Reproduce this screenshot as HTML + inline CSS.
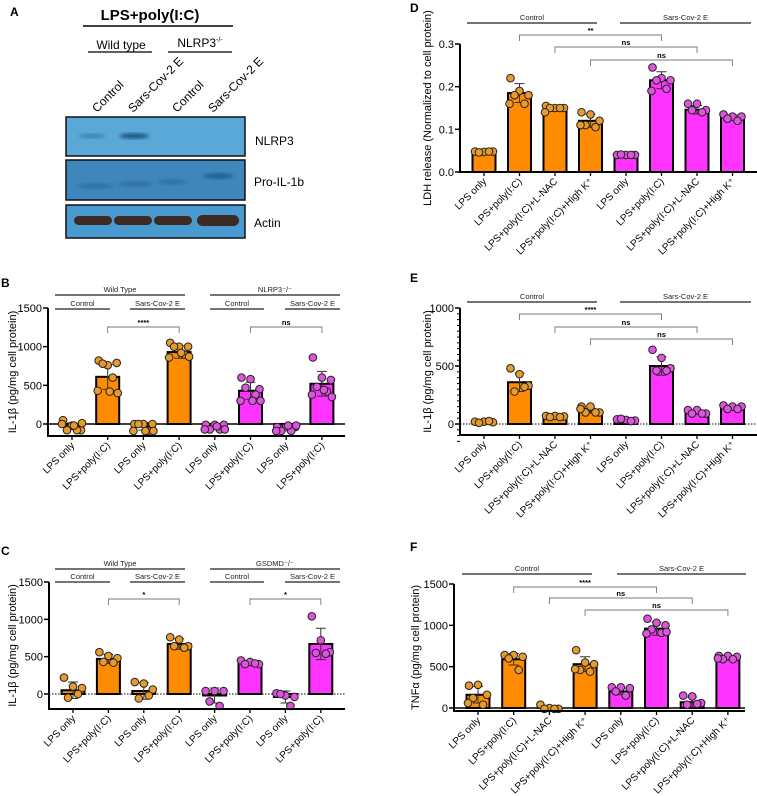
<!DOCTYPE html>
<html><head><meta charset="utf-8">
<style>
html,body{margin:0;padding:0;background:#fff;}
svg{display:block;font-family:"Liberation Sans",Arial,sans-serif;}
</style></head>
<body>
<svg id="fig" width="757" height="796" viewBox="0 0 757 796" xmlns="http://www.w3.org/2000/svg">
<g>
  <text x="10" y="16" font-size="12" font-weight="bold">A</text>
  <text x="150" y="20" font-size="15" font-weight="bold" text-anchor="middle">LPS+poly(I:C)</text>
  <line x1="83" y1="26" x2="233" y2="26" stroke="#000" stroke-width="1.5"/>
  <text x="121" y="49" font-size="12" text-anchor="middle">Wild type</text>
  <line x1="88" y1="52" x2="152" y2="52" stroke="#000" stroke-width="1.2"/>
  <text x="200" y="47" font-size="12" text-anchor="middle">NLRP3<tspan font-size="7" dy="-5">-/-</tspan></text>
  <line x1="168" y1="52" x2="232" y2="52" stroke="#000" stroke-width="1.2"/>
  <text transform="translate(97,113) rotate(-45)" font-size="12">Control</text>
  <text transform="translate(133,113) rotate(-45)" font-size="12">Sars-Cov-2 E</text>
  <text transform="translate(177,113) rotate(-45)" font-size="12">Control</text>
  <text transform="translate(213,113) rotate(-45)" font-size="12">Sars-Cov-2 E</text>
  <defs>
    <filter id="blur1"><feGaussianBlur stdDeviation="1.6"/></filter>
  </defs>
  <g>
    <rect x="66" y="117" width="179" height="39" fill="#5aa8d8" stroke="#111" stroke-width="1.5"/>
    <ellipse cx="92" cy="136" rx="13" ry="2.5" fill="#2f6f9c" opacity="0.6" filter="url(#blur1)"/>
    <ellipse cx="134" cy="136" rx="15" ry="3" fill="#1d4f7a" opacity="0.85" filter="url(#blur1)"/>
  </g>
  <g>
    <rect x="66" y="160" width="179" height="40" fill="#3f86bd" stroke="#111" stroke-width="1.5"/>
    <ellipse cx="95" cy="186" rx="18" ry="3" fill="#2a6898" opacity="0.6" filter="url(#blur1)"/>
    <ellipse cx="135" cy="184" rx="17" ry="3" fill="#2a6898" opacity="0.6" filter="url(#blur1)"/>
    <ellipse cx="172" cy="182" rx="14" ry="3" fill="#2a6898" opacity="0.6" filter="url(#blur1)"/>
    <ellipse cx="218" cy="176" rx="15" ry="3" fill="#1f5b8a" opacity="0.8" filter="url(#blur1)"/>
  </g>
  <g>
    <rect x="66" y="205" width="179" height="33" fill="#4a9ad2" stroke="#111" stroke-width="1.5"/>
    <rect x="74" y="216" width="38" height="9" rx="4.5" fill="#3d2a22"/>
    <rect x="114" y="216" width="38" height="9" rx="4.5" fill="#3d2a22"/>
    <rect x="154" y="216" width="38" height="9" rx="4.5" fill="#3d2a22"/>
    <rect x="197" y="215" width="42" height="11" rx="5.5" fill="#3d2a22"/>
  </g>
  <text x="255" y="145" font-size="12">NLRP3</text>
  <text x="254" y="186" font-size="12">Pro-IL-1b</text>
  <text x="254" y="227" font-size="12">Actin</text>
</g>
<g id="charts"></g>
</svg>
<script>
const bCategories = ["LPS only","LPS+poly(I:C)","LPS only","LPS+poly(I:C)","LPS only","LPS+poly(I:C)","LPS only","LPS+poly(I:C)"];
const bMeans = [-30, 610, -30, 930, -40, 430, -45, 520];
const bErrors = [45, 160, 50, 80, 30, 110, 30, 160];
const bPoints = [[50,-20,-80,-80,-80,0,10,-20],[820,760,790,780,600,430,400,420],[0,0,0,0,-90,-90,-90,-90],[1050,1000,1000,1000,900,860,870,920],[-10,-10,-10,-70,-70,-70,-70,-30],[600,580,450,470,380,300,300,300],[-40,-40,-40,-90,-90,-90,-20,-20],[860,600,570,480,420,380,350,440]];
const bTicks = [0,500,1000,1500];

const cCategories = bCategories.slice();
const cMeans = [50, 470, 40, 670, -20, 410, -40, 670];
const cErrors = [110, 60, 110, 70, 100, 30, 80, 210];
const cPoints = [[220,100,80,-50,0],[560,510,480,430,420],[160,140,60,-60,-20],[760,730,640,640,620],[40,40,40,-100,-160],[450,430,400,400,410],[10,-20,-40,0,-160],[1040,720,560,550,540]];
const cTicks = [0,500,1000,1500];

const dCategories = ["LPS only","LPS+poly(I:C)","LPS+poly(I:C)+L-NAC","LPS+poly(I:C)+High K\u207A","LPS only","LPS+poly(I:C)","LPS+poly(I:C)+L-NAC","LPS+poly(I:C)+High K\u207A"];
const dMeans = [0.047, 0.185, 0.148, 0.12, 0.04, 0.215, 0.146, 0.128];
const dErrors = [0.002, 0.022, 0.006, 0.015, 0.002, 0.02, 0.01, 0.006];
const dPoints = [[0.048,0.047,0.048,0.046,0.048],[0.22,0.19,0.18,0.18,0.16,0.16],[0.155,0.15,0.15,0.15,0.15,0.14],[0.14,0.135,0.12,0.11,0.105,0.11],[0.04,0.04,0.04,0.041,0.04],[0.245,0.22,0.215,0.215,0.195,0.19],[0.16,0.16,0.145,0.145,0.14],[0.135,0.13,0.13,0.125,0.12]];
const dTicks = [0,0.1,0.2,0.3];
const dTickLabels = ["0.0","0.1","0.2","0.3"];

const eCategories = dCategories.slice();
const eMeans = [20, 360, 65, 115, 35, 500, 100, 140];
const eErrors = [6, 80, 6, 20, 8, 80, 15, 15];
const ePoints = [[20,20,15,10,25],[480,430,330,280,320],[70,70,65,60,60],[150,150,100,100,100,130],[40,35,30,45,25],[640,570,480,460,460],[120,120,90,90,90],[160,150,150,130,130]];
const eTicks = [0,500,1000];

const fCategories = dCategories.slice();
const fMeans = [160, 590, 10, 530, 200, 960, 70, 600];
const fErrors = [100, 70, 15, 90, 40, 80, 60, 20];
const fPoints = [[270,280,160,120,40,60],[640,640,620,600,460],[40,0,-10,-10,-10],[700,550,530,460,440,470],[250,250,240,200,150],[1080,1030,1000,950,910,900,920],[150,140,60,40,50],[630,630,620,590,590,600]];
const fTicks = [0,500,1000,1500];

const NS = "http://www.w3.org/2000/svg";
const root = document.getElementById("charts");
function mk(tag, attrs, parent) {
  const el = document.createElementNS(NS, tag);
  for (const k in attrs) el.setAttribute(k, attrs[k]);
  (parent || root).appendChild(el);
  return el;
}
const ORANGE = "#ff8c00", ORANGE_DOT = "#e89a2a", MAG = "#ff33ff", MAG_DOT = "#dd55dd";
const jitter = [-9, 0, 9, -5, 5, -10, 10, 2, -2];

function drawPanel(p) {
  const g = mk("g", {});
  
  
  const y = v => p.zeroY - (v / p.vRef) * (p.zeroY - p.refY);
  const cx = i => p.firstX + i * p.step;
  const letter = mk("text", {x: p.letterX, y: p.letterY, "font-size": 12, "font-weight": "bold"}, g);
  letter.textContent = p.letter;
  
  
  p.groups.forEach(gr => {
    const l = mk("line", {x1: gr[0], x2: gr[1], y1: gr[2], y2: gr[2], stroke: "#222", "stroke-width": 1.3}, g);
    
    
    const t = mk("text", {x: (gr[0] + gr[1]) / 2, y: gr[2] - 3, "font-size": 7.5, "text-anchor": "middle", fill: "#222"}, g);
    t.textContent = gr[3];
    
    
  });
  p.brackets.forEach(br => {
    const x1 = cx(br[0]), x2 = cx(br[1]), yy = br[2];
    const pa = mk("path", {d: `M${x1},${yy + 6}V${yy}H${x2}V${yy + 6}`, fill: "none", stroke: "#777", "stroke-width": 0.9}, g);
    
    
    const t = mk("text", {x: (x1 + x2) / 2, y: yy - 2, "font-size": 7.5, "font-weight": "bold", "text-anchor": "middle"}, g);
    t.textContent = br[3];
    
    
  });
  const zl = mk("line", {x1: p.axisX, x2: p.xEnd, y1: y(0), y2: y(0), stroke: "#000", "stroke-width": p.zeroDotted ? 1 : 1.5, "stroke-dasharray": p.zeroDotted ? "1.5,1.5" : "none"}, g);
  
  
  p.means.forEach((m, i) => {
    const isMag = i >= p.means.length / 2;
    const top = Math.min(y(m), y(0)), h = Math.abs(y(m) - y(0));
    const r = mk("rect", {x: cx(i) - p.barW / 2, y: top, width: p.barW, height: Math.max(h, 0.5), fill: isMag ? MAG : ORANGE, stroke: "#000", "stroke-width": 2}, g);
    
    
    const e = p.errors[i];
    const eb = mk("path", {d: `M${cx(i)},${y(m - e)}V${y(m + e)}M${cx(i) - 5},${y(m + e)}H${cx(i) + 5}M${cx(i) - 5},${y(m - e)}H${cx(i) + 5}`, stroke: "#333", "stroke-width": 1, fill: "none"}, g);
    
    
    p.points[i].forEach((v, k) => {
      const c = mk("circle", {cx: cx(i) + jitter[k % jitter.length], cy: y(v), r: 3.8, fill: isMag ? MAG_DOT : ORANGE_DOT, stroke: "#222", "stroke-width": 1}, g);
      
      
    });
    const t = mk("text", {transform: `translate(${cx(i) + 3},${p.bottomY + 10}) rotate(-45)`, "font-size": 10, "text-anchor": "end"}, g);
    t.textContent = p.cats[i];
    
    
  });
  const ya = mk("line", {x1: p.axisX, x2: p.axisX, y1: y(p.ticks[p.ticks.length - 1]), y2: p.bottomY, stroke: "#000", "stroke-width": 2}, g);
  
  
  const xa = mk("line", {x1: p.axisX - 1, x2: p.xEnd, y1: p.bottomY, y2: p.bottomY, stroke: "#000", "stroke-width": 2}, g);
  
  
  p.means.forEach((m, i) => {
    mk("line", {x1: cx(i), x2: cx(i), y1: p.bottomY, y2: p.bottomY + 4, stroke: "#000", "stroke-width": 1.3}, g);
  });
  if (p.minor) {
    for (let v = p.minor[0]; v <= p.ticks[p.ticks.length - 1]; v += p.minor[1]) {
      mk("line", {x1: p.axisX - 3, x2: p.axisX, y1: y(v), y2: y(v), stroke: "#000", "stroke-width": 1}, g);
    }
  }
  p.ticks.forEach((v, k) => {
    mk("line", {x1: p.axisX - 5, x2: p.axisX, y1: y(v), y2: y(v), stroke: "#000", "stroke-width": 1.5}, g);
    const t = mk("text", {x: p.axisX - 6, y: y(v) + 4, "font-size": 11, "text-anchor": "end"}, g);
    t.textContent = p.tickLabels ? p.tickLabels[k] : String(v);
    
    
  });
  const yl = mk("text", {transform: `translate(${p.ylabX},${(y(p.ticks[p.ticks.length - 1]) + p.bottomY) / 2}) rotate(-90)`, "font-size": 11, "text-anchor": "middle"}, g);
  yl.textContent = p.ylabel;
  
  
}

drawPanel({name: "panel-b", letter: "B", letterX: 1, letterY: 287,
  cats: bCategories, means: bMeans, errors: bErrors, points: bPoints, ticks: bTicks,
  zeroY: 424, refY: 308, vRef: 1500, axisX: 48, xEnd: 345, bottomY: 436, firstX: 72, step: 35.7, barW: 23,
  zeroDotted: false, ylabX: 16, ylabel: "IL-1\u03B2 (pg/mg cell protein)",
  groups: [[55,185,295,"Wild Type"],[210,340,295,"NLRP3\u207B/\u207B"],[55,110,309,"Control"],[130,185,309,"Sars-Cov-2 E"],[210,264,309,"Control"],[285,340,309,"Sars-Cov-2 E"]],
  brackets: [[1,3,327,"****"],[5,7,327,"ns"]]});

drawPanel({name: "panel-c", letter: "C", letterX: 1, letterY: 555,
  cats: cCategories, means: cMeans, errors: cErrors, points: cPoints, ticks: cTicks,
  zeroY: 694, refY: 582, vRef: 1500, axisX: 49, xEnd: 345, bottomY: 709, firstX: 73, step: 35.4, barW: 23,
  zeroDotted: true, ylabX: 16, ylabel: "IL-1\u03B2 (pg/mg cell protein)",
  groups: [[55,185,569,"Wild Type"],[210,340,569,"GSDMD\u207B/\u207B"],[55,110,582,"Control"],[130,185,582,"Sars-Cov-2 E"],[210,264,582,"Control"],[285,340,582,"Sars-Cov-2 E"]],
  brackets: [[1,3,599,"*"],[5,7,599,"*"]]});

drawPanel({name: "panel-d", letter: "D", letterX: 410, letterY: 12,
  cats: dCategories, means: dMeans, errors: dErrors, points: dPoints, ticks: dTicks, tickLabels: dTickLabels,
  zeroY: 172, refY: 44, vRef: 0.3, axisX: 460, xEnd: 757, bottomY: 172, firstX: 484, step: 35.5, barW: 23,
  zeroDotted: false, ylabX: 431, ylabel: "LDH release (Normalized to  cell protein)",
  groups: [[467,597,23,"Control"],[620,751,23,"Sars-Cov-2 E"]],
  brackets: [[1,5,35,"**"],[2,6,47,"ns"],[3,7,60,"ns"]]});

drawPanel({name: "panel-e", letter: "E", letterX: 410, letterY: 282,
  cats: eCategories, means: eMeans, errors: eErrors, points: ePoints, ticks: eTicks, minor: [-150, 50],
  zeroY: 424, refY: 308, vRef: 1000, axisX: 460, xEnd: 757, bottomY: 435, firstX: 484, step: 35.5, barW: 23,
  zeroDotted: true, ylabX: 431, ylabel: "IL-1\u03B2 (pg/mg cell protein)",
  groups: [[467,597,302,"Control"],[620,751,302,"Sars-Cov-2 E"]],
  brackets: [[1,5,314,"****"],[2,6,327,"ns"],[3,7,339,"ns"]]});

drawPanel({name: "panel-f", letter: "F", letterX: 410, letterY: 551,
  cats: fCategories, means: fMeans, errors: fErrors, points: fPoints, ticks: fTicks,
  zeroY: 708, refY: 584, vRef: 1500, axisX: 454, xEnd: 745, bottomY: 711, firstX: 478, step: 35.7, barW: 23,
  zeroDotted: false, ylabX: 419, ylabel: "TNF\u03B1 (pg/mg cell protein)",
  groups: [[462,592,574,"Control"],[617,746,574,"Sars-Cov-2 E"]],
  brackets: [[1,5,587,"****"],[2,6,598,"ns"],[3,7,610,"ns"]]});
</script>
</body></html>
